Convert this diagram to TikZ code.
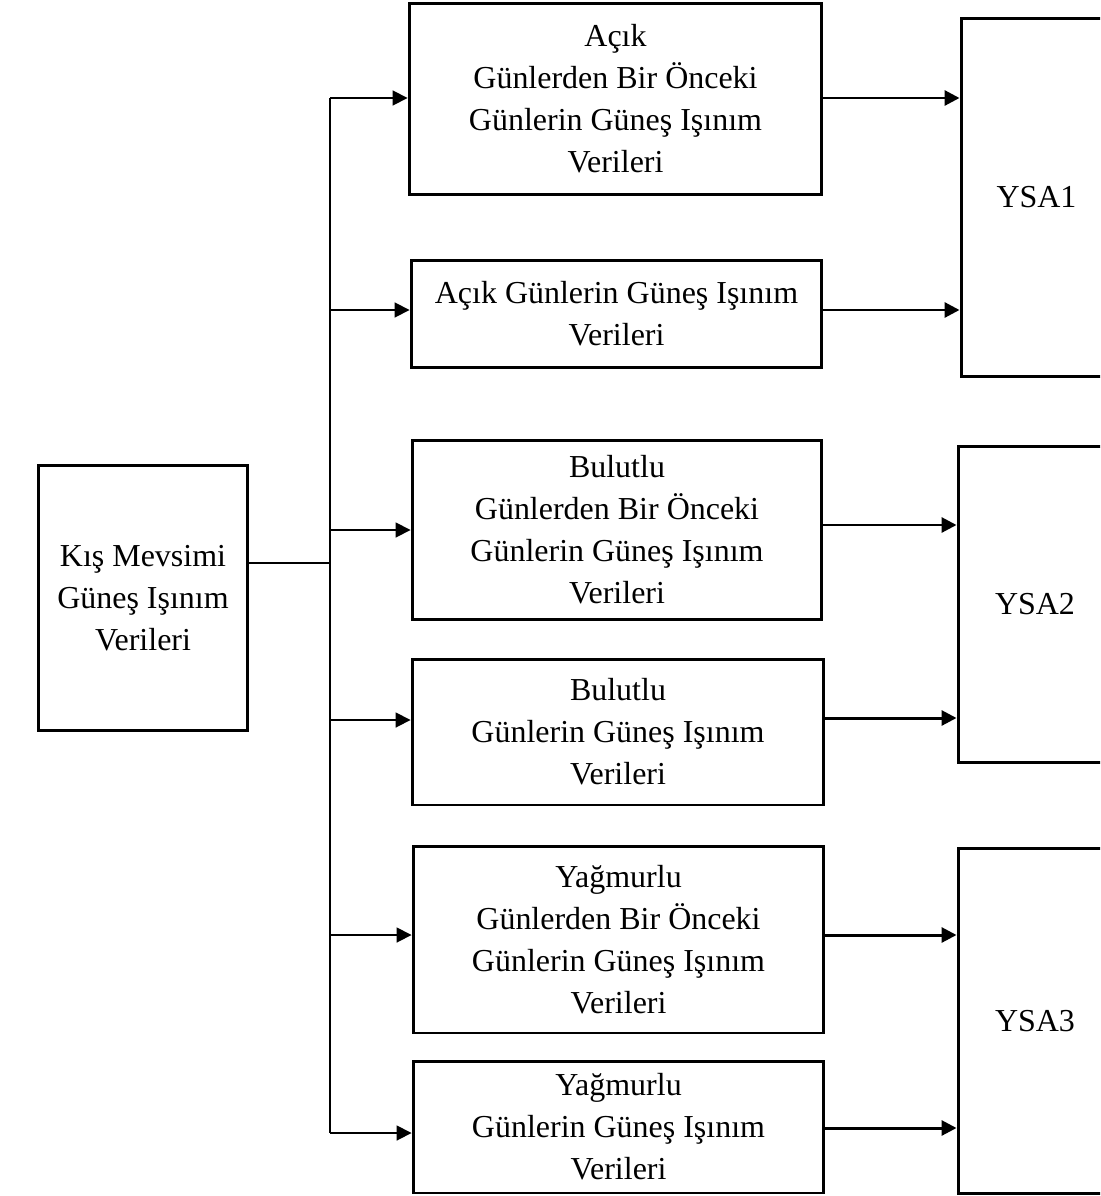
\documentclass[tikz,border=0pt]{standalone}
\usepackage{fontspec}
\setmainfont{Liberation Serif}
\usepackage{tikz}
\usetikzlibrary{arrows.meta}

\begin{document}
\begin{tikzpicture}[x=0.02cm, y=-0.02cm,
    box/.style={shape=rectangle, draw=black, line width=1.7pt, align=center, inner sep=0pt,
                font=\fontsize{18.2}{23.9}\selectfont},
    feed/.style={line width=1pt, -{Triangle[length=0.3cm,width=0.3cm]}},
    sonuc/.style={line width=1.7pt, -{Triangle[length=0.3cm,width=0.3cm]}}]
            \clip (0,0) rectangle (1100,1196);

            \node[box, minimum width=4.2cm, minimum height=5.32cm] (src) at (143,598) {Kış Mevsimi\\Güneş Işınım\\Verileri};

            \node[box, minimum width=8.26cm, minimum height=3.84cm] (acikO) at (615.5,99) {Açık\\ Günlerden Bir Önceki\\Günlerin Güneş Işınım\\Verileri};
            \node[box, minimum width=8.22cm, minimum height=2.16cm] (acik) at (616.5,314) {Açık Günlerin Güneş Işınım\\Verileri};
            \node[box, minimum width=8.2cm, minimum height=3.6cm] (bulutO) at (617,530) {Bulutlu\\ Günlerden Bir Önceki\\Günlerin Güneş Işınım\\Verileri};
            \node[box, minimum width=8.24cm, minimum height=2.92cm] (bulut) at (618,732) {Bulutlu\\ Günlerin Güneş Işınım\\Verileri};
            \node[box, minimum width=8.22cm, minimum height=3.74cm] (yagmurO) at (618.5,939.5) {Yağmurlu\\ Günlerden Bir Önceki\\Günlerin Güneş Işınım\\Verileri};
            \node[box, minimum width=8.22cm, minimum height=2.64cm] (yagmur) at (618.5,1127) {Yağmurlu\\ Günlerin Güneş Işınım\\Verileri};

            \node[box, minimum width=3.02cm, minimum height=7.18cm] (ysa1) at (1036.5,197.5) {YSA1};
            \node[box, minimum width=3.08cm, minimum height=6.34cm] (ysa2) at (1035,604.5) {YSA2};
            \node[box, minimum width=3.08cm, minimum height=6.92cm] (ysa3) at (1035,1021) {YSA3};

            % dallanma noktalari
            \coordinate (kol) at (330,563);
            \coordinate (k1) at (330,98);
            \coordinate (k2) at (330,310);
            \coordinate (k3) at (330,530);
            \coordinate (k4) at (330,720);
            \coordinate (k5) at (330,935);
            \coordinate (k6) at (330,1133);

            \draw[line width=1.7pt] (src.east |- kol) -- (kol);
            \draw[line width=1pt] (k1) -- (k6);

            \draw[feed] (k1) -- (acikO.west |- k1);
            \draw[feed] (k2) -- (acik.west |- k2);
            \draw[feed] (k3) -- (bulutO.west |- k3);
            \draw[feed] (k4) -- (bulut.west |- k4);
            \draw[feed] (k5) -- (yagmurO.west |- k5);
            \draw[feed] (k6) -- (yagmur.west |- k6);

            % ciktilar
            \coordinate (c1) at (0,98);
            \coordinate (c2) at (0,310);
            \coordinate (c3) at (0,525);
            \coordinate (c4) at (0,718);
            \coordinate (c5) at (0,935);
            \coordinate (c6) at (0,1128);

            \draw[sonuc] (acikO.east |- c1) -- (ysa1.west |- c1);
            \draw[sonuc] (acik.east |- c2) -- (ysa1.west |- c2);
            \draw[sonuc] (bulutO.east |- c3) -- (ysa2.west |- c3);
            \draw[sonuc] (bulut.east |- c4) -- (ysa2.west |- c4);
            \draw[sonuc] (yagmurO.east |- c5) -- (ysa3.west |- c5);
            \draw[sonuc] (yagmur.east |- c6) -- (ysa3.west |- c6);
            
        \end{tikzpicture}
\end{document}
